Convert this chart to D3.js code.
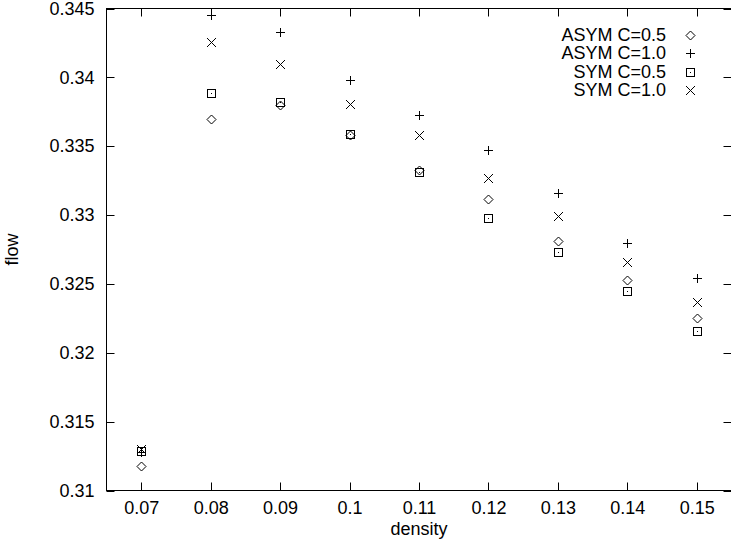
<!DOCTYPE html>
<html><head><meta charset="utf-8">
<script src="https://cdn.jsdelivr.net/npm/d3@7"></script>
<style>html,body{margin:0;padding:0;background:#fff;}svg{display:block;font-family:"Liberation Sans",Arial,sans-serif;}</style>
</head><body>
<svg id="chart" width="731" height="540"></svg>
<script>
const density = [0.07, 0.08, 0.09, 0.10, 0.11, 0.12, 0.13, 0.14, 0.15];
const asym05 = [0.3118, 0.3370, 0.3380, 0.3358, 0.3333, 0.3312, 0.3281, 0.3253, 0.3225];
const asym10 = [0.3128, 0.3445, 0.3433, 0.3398, 0.3373, 0.3347, 0.3316, 0.3280, 0.3254];
const sym05  = [0.3129, 0.3389, 0.3382, 0.3359, 0.3331, 0.3298, 0.3273, 0.3245, 0.3216];
const sym10  = [0.3130, 0.3426, 0.3410, 0.3381, 0.3358, 0.3327, 0.3299, 0.3266, 0.3237];
const seriesNames = ["ASYM C=0.5", "ASYM C=1.0", "SYM C=0.5", "SYM C=1.0"];
const seriesSymbols = ["diamond", "plus", "square", "cross"];
const xTicks = [0.07, 0.08, 0.09, 0.10, 0.11, 0.12, 0.13, 0.14, 0.15];
const xTickLabels = ["0.07", "0.08", "0.09", "0.1", "0.11", "0.12", "0.13", "0.14", "0.15"];
const yTicks = [0.31, 0.315, 0.32, 0.325, 0.33, 0.335, 0.34, 0.345];
const yTickLabels = ["0.31", "0.315", "0.32", "0.325", "0.33", "0.335", "0.34", "0.345"];

const series = [asym05, asym10, sym05, sym10];
const svg = d3.select("#chart");
const L = 106.5, R = 731.5, T = 8.5, B = 490.5;
const x = d3.scaleLinear().domain([0.065, 0.155]).range([L, R]);
const y = d3.scaleLinear().domain([0.31, 0.345]).range([B, T]);
const tk = 8, fs = 18;

// frame
svg.append("rect").attr("x", L).attr("y", T).attr("width", R - L).attr("height", B - T)
  .attr("fill", "none").attr("stroke", "#000").attr("stroke-width", 1);

// x axis
const xa = svg.append("g").attr("transform", `translate(0,${B})`)
  .call(d3.axisBottom(x).tickValues(xTicks).tickSize(0).tickPadding(11)
    .tickFormat((d, i) => xTickLabels[i]));
xa.select(".domain").remove();
xa.selectAll("text").attr("font-size", fs).attr("font-family", "Liberation Sans, Arial, sans-serif").attr("fill", "#000");
xTicks.forEach(v => {
  const px = Math.round(x(v)) + 0.5;
  svg.append("line").attr("x1", px).attr("x2", px).attr("y1", B).attr("y2", B - tk).attr("stroke", "#000");
  svg.append("line").attr("x1", px).attr("x2", px).attr("y1", T).attr("y2", T + tk).attr("stroke", "#000");
});

// y axis
const ya = svg.append("g").attr("transform", `translate(${L},0)`)
  .call(d3.axisLeft(y).tickValues(yTicks).tickSize(0).tickPadding(12)
    .tickFormat((d, i) => yTickLabels[i]));
ya.select(".domain").remove();
ya.selectAll("text").attr("font-size", fs).attr("font-family", "Liberation Sans, Arial, sans-serif").attr("fill", "#000");
yTicks.forEach(v => {
  const py = Math.round(y(v)) + 0.5;
  svg.append("line").attr("x1", L).attr("x2", L + tk).attr("y1", py).attr("y2", py).attr("stroke", "#000");
  svg.append("line").attr("x1", R).attr("x2", R - tk).attr("y1", py).attr("y2", py).attr("stroke", "#000");
});

// axis titles
svg.append("text").attr("x", (L + R) / 2).attr("y", 535).attr("text-anchor", "middle")
  .attr("font-size", fs).text("density");
svg.append("text").attr("transform", `translate(18,${(T + B) / 2}) rotate(-90)`)
  .attr("text-anchor", "middle").attr("font-size", fs).text("flow");

function drawSymbol(g, type, cx, cy) {
  const s = 4.5;
  const st = {stroke: "#000", "stroke-width": 1, fill: "none"};
  let el;
  if (type === "diamond") {
    el = g.append("path").attr("d", `M${cx},${cy - s}L${cx + s},${cy}L${cx},${cy + s}L${cx - s},${cy}Z`);
  } else if (type === "plus") {
    el = g.append("path").attr("d", `M${cx - s},${cy}H${cx + s}M${cx},${cy - s}V${cy + s}`);
  } else if (type === "cross") {
    el = g.append("path").attr("d", `M${cx - s},${cy - s}L${cx + s},${cy + s}M${cx - s},${cy + s}L${cx + s},${cy - s}`);
  } else {
    el = g.append("rect").attr("x", cx - 4).attr("y", cy - 4).attr("width", 8).attr("height", 8);
    g.append("rect").attr("x", cx - 0.5).attr("y", cy - 0.5).attr("width", 1).attr("height", 1).attr("fill", "#000");
  }
  Object.entries(st).forEach(([k, v]) => el.attr(k, v));
}

const pts = svg.append("g");
series.forEach((vals, si) => {
  vals.forEach((v, i) => {
    drawSymbol(pts, seriesSymbols[si], Math.round(x(density[i])) + 0.5, Math.round(y(v)) + 0.5);
  });
});

// legend
const lg = svg.append("g");
seriesNames.forEach((name, i) => {
  const ly = 34.5 + i * 18.5;
  lg.append("text").attr("x", 666).attr("y", ly).attr("dy", "0.35em").attr("text-anchor", "end")
    .attr("font-size", fs).text(name);
  drawSymbol(lg, seriesSymbols[i], 690.5, Math.round(ly) + 0.5);
});
</script>
</body></html>
